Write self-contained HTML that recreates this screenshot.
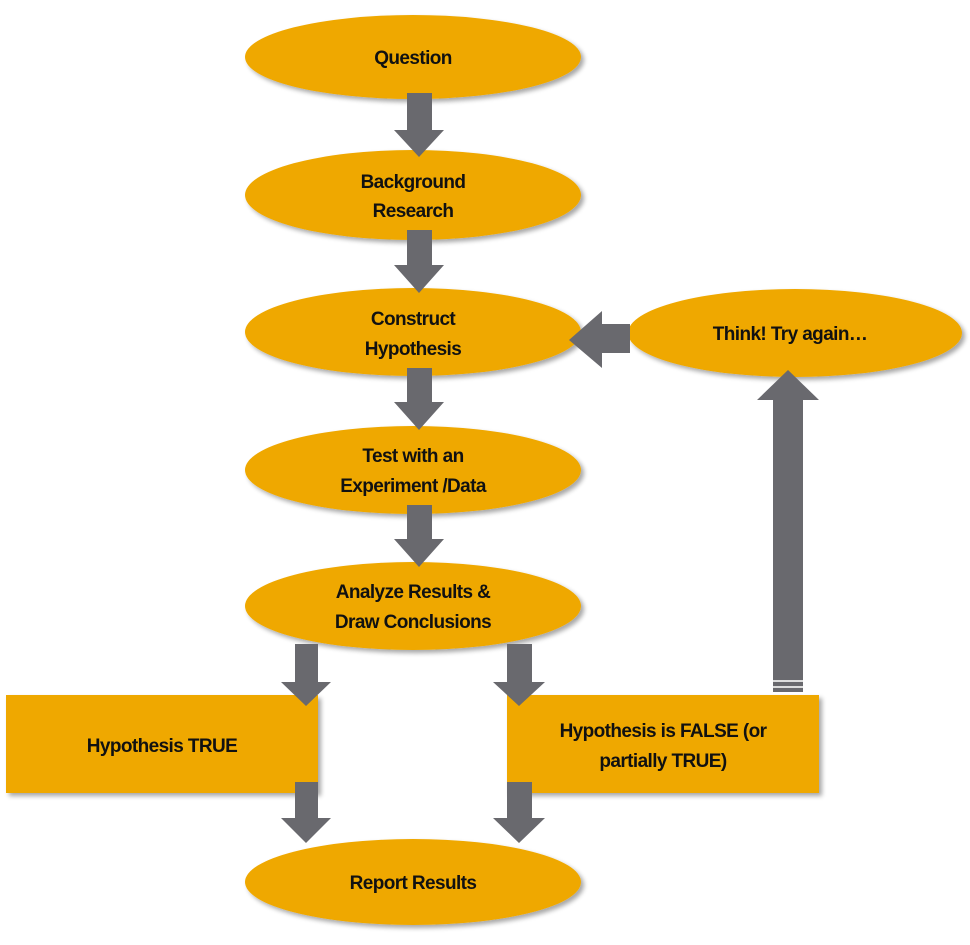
<!DOCTYPE html>
<html><head><meta charset="utf-8"><style>
html,body{margin:0;padding:0;background:#fff;}
svg{display:block}
text{font-family:"Liberation Sans",sans-serif;font-weight:bold;font-size:19px;fill:#111;text-anchor:middle;letter-spacing:-0.6px}
</style></head><body>
<svg width="970" height="945" viewBox="0 0 970 945" xmlns="http://www.w3.org/2000/svg">
<defs>
<filter id="sh" x="-10%" y="-10%" width="125%" height="130%">
<feGaussianBlur in="SourceAlpha" stdDeviation="2.5"/>
<feOffset dx="3" dy="3" result="b"/>
<feComponentTransfer><feFuncA type="linear" slope="0.35"/></feComponentTransfer>
<feMerge><feMergeNode/><feMergeNode in="SourceGraphic"/></feMerge>
</filter>
</defs>
<g fill="#EFA800" filter="url(#sh)">
<ellipse cx="413" cy="57" rx="168" ry="42"/>
<ellipse cx="413" cy="195" rx="168" ry="45"/>
<ellipse cx="413" cy="332" rx="168" ry="44"/>
<ellipse cx="413" cy="470" rx="168" ry="44"/>
<ellipse cx="413" cy="606" rx="168" ry="44"/>
<ellipse cx="413" cy="882" rx="168" ry="43"/>
<ellipse cx="795" cy="333" rx="167" ry="44"/>
<rect x="6" y="695" width="312" height="98"/>
<rect x="507" y="695" width="312" height="98"/>
</g>
<g fill="#69696e">
<!-- vertical arrows -->
<polygon points="407,93 432,93 432,130 444,130 419,157 394,130 407,130"/>
<polygon points="407,230 432,230 432,265 444,265 419,293 394,265 407,265"/>
<polygon points="407,368 432,368 432,402 444,402 419,430 394,402 407,402"/>
<polygon points="407,505 432,505 432,539 444,539 419,567 394,539 407,539"/>
<polygon points="295,644 318,644 318,682 331,682 306,706 281,682 295,682"/>
<polygon points="507,644 532,644 532,682 545,682 519,706 493,682 507,682"/>
<polygon points="295,782 318,782 318,818 331,818 306,843 281,818 295,818"/>
<polygon points="507,782 532,782 532,818 545,818 519,843 493,818 507,818"/>
<!-- left arrow -->
<polygon points="630,324 630,353 602,353 602,368 569,340 602,311 602,324"/>
<!-- up arrow -->
<polygon points="773,692 803,692 803,400 819,400 788,370 757,400 773,400"/>
</g>
<rect x="773" y="680" width="30" height="2" fill="#ddd"/>
<rect x="773" y="686" width="30" height="2" fill="#ddd"/>
<text x="413" y="64">Question</text>
<text x="413" y="188">Background</text>
<text x="413" y="217">Research</text>
<text x="413" y="325">Construct</text>
<text x="413" y="355">Hypothesis</text>
<text x="413" y="462">Test with  an</text>
<text x="413" y="492">Experiment /Data</text>
<text x="413" y="598">Analyze Results &amp;</text>
<text x="413" y="628">Draw Conclusions</text>
<text x="413" y="889">Report Results</text>
<text x="790" y="340">Think! Try again…</text>
<text x="162" y="752">Hypothesis TRUE</text>
<text x="663" y="737">Hypothesis is FALSE (or</text>
<text x="663" y="767">partially TRUE)</text>
</svg>
</body></html>
